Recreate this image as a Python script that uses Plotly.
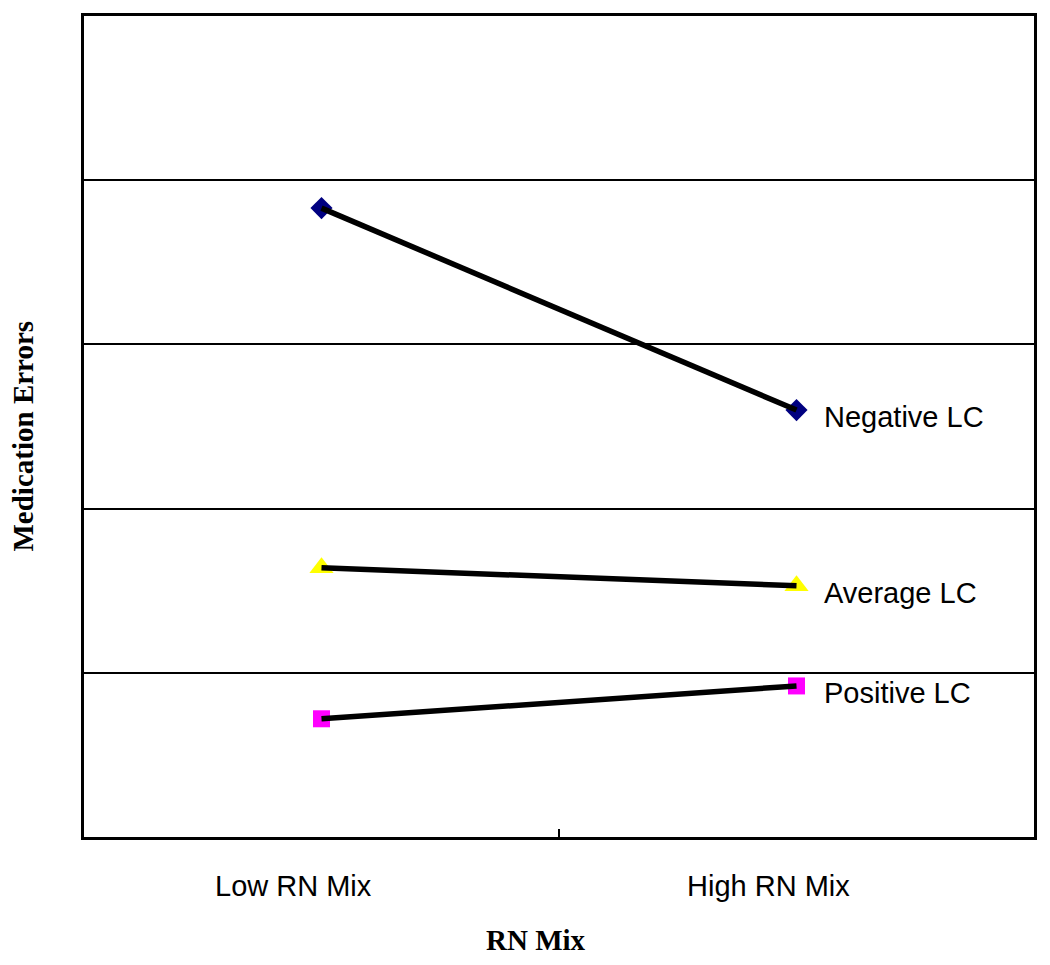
import plotly.graph_objects as go

categories = ["Low RN Mix", "High RN Mix"]
series_names = ["Negative LC", "Average LC", "Positive LC"]
negative_lc = [3.83, 2.60]
average_lc = [1.64, 1.53]
positive_lc = [0.72, 0.92]

values = [negative_lc, average_lc, positive_lc]
symbols = ["diamond", "triangle-up", "square"]
colors = ["#000080", "#FFFF00", "#FF00FF"]
sizes = [17, 21, 17]

xpos = [i + 0.5 for i in range(len(categories))]

fig = go.Figure()
for name, vals, sym, col, sz in zip(series_names, values, symbols, colors, sizes):
    fig.add_trace(go.Scatter(x=xpos, y=vals, mode="markers",
                             marker=dict(symbol=sym, color=col, size=sz, line=dict(width=0)),
                             showlegend=False, hoverinfo="skip"))
    fig.add_trace(go.Scatter(x=xpos, y=vals, mode="lines", name=name,
                             line=dict(color="black", width=5.5), showlegend=False))
    fig.add_annotation(x=xpos[-1], y=vals[-1], text=name, showarrow=False,
                       xanchor="left", yanchor="middle", xshift=25, yshift=-7,
                       font=dict(family="Liberation Sans, Arial", size=29, color="black"))

for x, cat in zip(xpos, categories):
    fig.add_annotation(x=x, y=0, yref="y", text=cat, showarrow=False,
                       xanchor="center", yanchor="middle", xshift=-28, yshift=-49,
                       font=dict(family="Liberation Sans, Arial", size=29, color="black"))

title_font = dict(family="Liberation Serif, Times New Roman", size=29, color="black")
fig.add_annotation(xref="paper", yref="paper", x=0.5, y=0, text="<b>RN Mix</b>",
                   showarrow=False, xanchor="center", yanchor="middle",
                   xshift=-23, yshift=-103, borderpad=0, font=title_font)
fig.add_annotation(xref="paper", yref="paper", x=0, y=0.5, text="<b>Medication Errors</b>",
                   showarrow=False, xanchor="center", yanchor="middle", textangle=-90,
                   xshift=-62, yshift=-10, font=title_font)

fig.update_layout(
    width=1034, height=949,
    margin=dict(l=76, r=7, t=5, b=120),
    paper_bgcolor="white", plot_bgcolor="white",
    xaxis=dict(range=[0, 2], showgrid=False, zeroline=False,
               tickvals=[1], ticktext=[""], ticks="inside", ticklen=8, tickwidth=2,
               tickcolor="black",
               showline=True, linecolor="black", linewidth=2.5, mirror=True),
    yaxis=dict(range=[0, 5], tickvals=[1, 2, 3, 4], showticklabels=False,
               showgrid=True, gridcolor="black", gridwidth=2, zeroline=False, ticks="",
               showline=True, linecolor="black", linewidth=2.5, mirror=True),
)

fig.write_html("out.html")
